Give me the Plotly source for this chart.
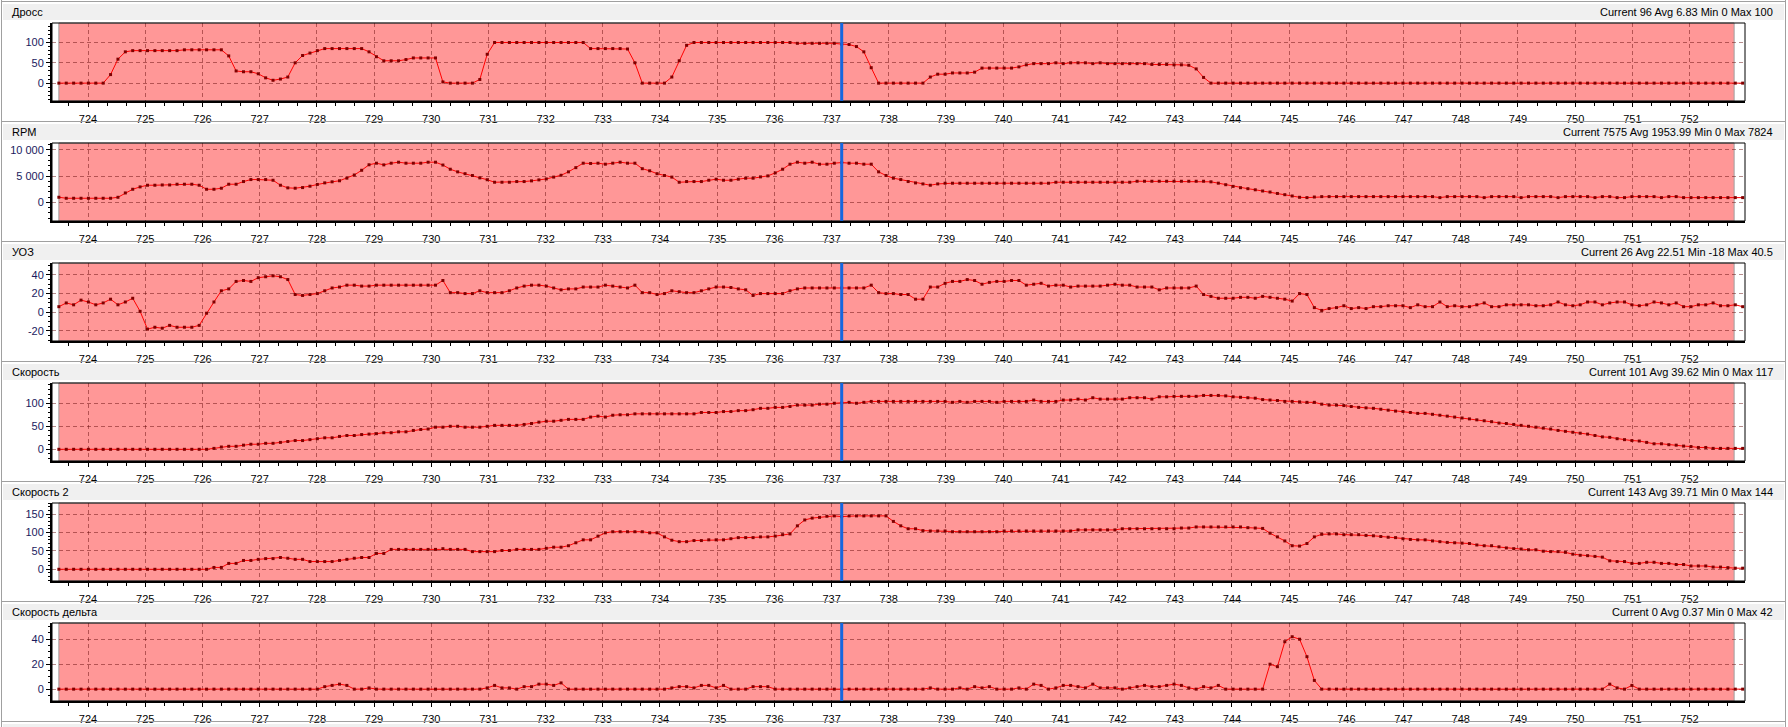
import plotly.graph_objects as go

W, H = 1788, 727
T0 = 723.49        # time of the first sample, s
DT = 0.12912       # sample step, s
CURSOR_INDEX = 106

titles = ['Дросс', 'RPM', 'УОЗ', 'Скорость', 'Скорость 2', 'Скорость дельта']
stats = ['Current 96 Avg 6.83 Min 0 Max 100',
         'Current 7575 Avg 1953.99 Min 0 Max 7824',
         'Current 26 Avg 22.51 Min -18 Max 40.5',
         'Current 101 Avg 39.62 Min 0 Max 117',
         'Current 143 Avg 39.71 Min 0 Max 144',
         'Current 0 Avg 0.37 Min 0 Max 42']

y_ticks = [[0, 50, 100], [0, 5000, 10000], [-20, 0, 20, 40],
           [0, 50, 100], [0, 50, 100, 150], [0, 20, 40]]
y_tick_text = [['0', '50', '100'], ['0', '5 000', '10 000'], ['-20', '0', '20', '40'],
               ['0', '50', '100'], ['0', '50', '100', '150'], ['0', '20', '40']]
y_ranges = [[-44, 148], [-3570, 11300], [-30.7, 52.7],
            [-25.4, 144], [-31.8, 180], [-9.5, 53]]
y_minor = [10, 1000, 5, 10, 10, 5]

throttle = [
    0, 0, 0, 0,
    0, 0, 0, 21, 59, 77, 80, 80,
    80, 80, 80, 80, 80, 82, 82, 82,
    82, 82, 82, 67, 30, 28, 28, 23,
    13, 7, 10, 15, 50, 68, 74,
    80, 85, 85, 85, 85, 85, 85, 77,
    65, 55, 55, 55, 58, 62, 62, 62,
    62, 3, 0, 0, 0, 0, 9, 71,
    100, 100, 100, 100, 100, 100, 100,
    100, 100, 100, 100, 100, 100, 85, 85,
    85, 85, 85, 84, 50, 0, 0, 0,
    0, 15, 55, 93, 100, 100, 100, 100,
    100, 100, 100, 100, 100, 100, 100,
    100, 100, 100, 98, 98, 98, 98, 98,
    98, 96, 95, 90, 77, 38, 0, 0,
    0, 0, 0, 0, 0, 15, 22, 22,
    25, 25, 25, 27, 37, 37, 37,
    37, 37, 40, 45, 48, 48, 48, 50,
    48, 50, 50, 50, 48, 50, 48, 48,
    48, 48, 48, 48, 46, 46, 46, 45,
    45, 44, 35, 14, 0, 0, 0,
    0, 0, 0, 0, 0, 0, 0, 0,
    0, 0, 0, 0, 0, 0, 0, 0,
    0, 0, 0, 0, 0, 0, 0, 0,
    0, 0, 0, 0, 0, 0, 0,
    0, 0, 0, 0, 0, 0, 0, 0,
    0, 0, 0, 0, 0, 0, 0, 0,
    0, 0, 0, 0, 0, 0, 0, 0,
    0, 0, 0, 0, 0, 0, 0,
    0, 0, 0, 0, 0, 0, 0, 0,
]

rpm = [
    955, 765, 765, 765,
    765, 765, 765, 765, 950, 1780, 2480, 2930,
    3250, 3250, 3300, 3300, 3440, 3440, 3440, 3250,
    2480, 2480, 2680, 3440, 3440, 3950, 4330, 4330,
    4330, 4200, 3250, 2750, 2680, 2800, 3060,
    3400, 3700, 3900, 4100, 4600, 5200, 6100, 7150,
    7450, 7130, 7450, 7640, 7450, 7450, 7450, 7640,
    7640, 7100, 6300, 5800, 5450, 5100, 4650, 4300,
    3820, 3820, 3820, 3950, 3950, 4080, 4270,
    4450, 4800, 5150, 5800, 6600, 7450, 7400, 7450,
    7260, 7450, 7640, 7450, 7450, 6400, 6000, 5450,
    5100, 4800, 3820, 3950, 3950, 3950, 4200, 4400,
    4200, 4200, 4400, 4590, 4590, 4840, 5030,
    5600, 6300, 7260, 7640, 7450, 7640, 7260, 7260,
    7450, 7575, 7450, 7450, 7260, 7260, 5800, 5100,
    4590, 4330, 3950, 3690, 3500, 3250, 3500, 3630,
    3630, 3630, 3630, 3630, 3630, 3630, 3630,
    3630, 3630, 3630, 3630, 3630, 3630, 3630, 3820,
    3820, 3820, 3820, 3820, 3820, 3820, 3820, 3820,
    3820, 3820, 4010, 4010, 4010, 4010, 4010, 4010,
    4010, 4010, 4010, 4010, 3900, 3640, 3350,
    3030, 2780, 2590, 2380, 2150, 1950, 1680, 1450,
    1200, 950, 890, 1000, 1080, 1080, 1080, 1080,
    1080, 1080, 1080, 1080, 1080, 1080, 1080, 1080,
    1080, 1080, 1080, 1080, 890, 1080, 1080,
    1080, 1080, 1080, 890, 1080, 1080, 1080, 1080,
    890, 1080, 1080, 1080, 1080, 890, 1080, 1080,
    1080, 1080, 890, 1080, 1080, 890, 890, 1080,
    1080, 1080, 1080, 890, 1080, 1080, 890,
    890, 890, 890, 890, 890, 890, 890, 890,
]

ignition = [
    6, 10, 8, 13,
    11, 8, 10, 14, 8, 11, 15, 1,
    -18, -16, -17, -14, -16, -16, -16, -14,
    -1, 11, 23, 25, 33, 34, 33, 37,
    38, 39, 38, 35, 19, 18, 19,
    20, 23, 26, 27, 29, 29, 28, 28,
    29, 29, 29, 29, 29, 29, 29, 29,
    29, 34, 21, 21, 20, 20, 23, 21,
    21, 21, 23, 26, 28, 29, 29,
    28, 26, 24, 25, 25, 27, 27, 27,
    29, 28, 27, 26, 29, 21, 21, 19,
    20, 23, 22, 21, 21, 23, 25, 27,
    27, 26.5, 25, 24, 18, 20, 20,
    20, 20, 23, 25, 26, 26, 26, 26,
    26, 26, 26, 26, 26, 29, 21, 20,
    20, 19, 19, 14, 14, 27, 27, 31,
    33, 33, 35, 34, 30, 32, 33,
    33, 34, 34, 29, 30, 31, 28, 29,
    29, 27, 28, 28, 28, 28, 29, 30,
    29, 29, 27, 27, 27, 24, 26, 26,
    26, 26, 28, 19, 17, 15, 15,
    15, 16, 16, 15, 17, 16, 15, 14,
    12, 20, 19, 5, 2, 4, 5, 7,
    4, 5, 4, 6, 6, 7, 7, 7,
    5, 8, 6, 6, 11, 6, 7,
    6, 6, 8, 10, 6, 6, 8, 8,
    8, 8, 7, 7, 8, 11, 8, 7,
    8, 11, 11, 8, 10, 11, 11, 8,
    7, 8, 11, 10, 8, 10, 6,
    6, 8, 8, 10, 7, 7, 8, 6,
]

speed = [
    0, 0, 0, 0,
    0, 0, 0, 0, 0, 0, 0, 0,
    0, 0, 0, 0, 0, 0, 0, 0,
    0, 2, 5, 6.5, 6.5, 9, 11, 11,
    13, 13, 15, 17, 19, 19, 21,
    23, 25, 25, 28, 30, 30, 32, 33,
    34, 36, 36, 38, 38, 41, 43, 44,
    48, 48, 50, 50, 48, 48, 48, 50,
    52, 52, 52, 52, 54, 56, 59,
    61, 61, 63, 65, 65, 65, 70, 72,
    70, 74, 75, 75, 77, 77, 77, 77,
    77, 77, 77, 77, 77, 80, 80, 80,
    82, 82, 84, 84, 86, 89, 89,
    91, 91, 93, 96, 96, 96, 98, 98,
    100, 101, 102, 100, 102, 104, 104, 104,
    104, 104, 104, 104, 104, 104, 104, 104,
    102, 104, 102, 104, 104, 104, 102,
    104, 104, 104, 104, 107, 104, 104, 104,
    107, 107, 109, 107, 112, 109, 109, 109,
    109, 112, 112, 112, 109, 114, 114, 115,
    115, 115, 115, 117, 117, 117, 116,
    114, 113, 112, 111, 108, 107, 106, 104,
    104, 103, 102, 102, 98, 96, 96, 95,
    93, 91, 90, 89, 87, 85, 83, 82,
    80, 78, 78, 76, 74, 72, 70,
    68, 66, 64, 62, 60, 57, 56, 54,
    52, 50, 48, 46, 44, 41, 39, 37,
    35, 33, 30, 27, 26, 23, 21, 19,
    18, 15, 12, 12, 10, 9, 7,
    6, 4, 4, 2, 2, 2, 2, 2,
]

speed2 = [
    0, 0, 0, 0,
    0, 0, 0, 0, 0, 0, 0, 0,
    0, 0, 0, 0, 0, 0, 0, 0,
    0, 5, 5, 16, 16, 24, 24, 27,
    29, 29, 32, 30, 27, 27, 21,
    21, 21, 21, 24, 27, 30, 32, 32,
    43, 43, 54, 54, 54, 54, 54, 54,
    54, 56, 54, 54, 54, 48, 48, 48,
    48, 51, 51, 54, 54, 54, 54,
    57, 60, 60, 64, 72, 80, 80, 90,
    99, 102, 102, 102, 102, 102, 99, 99,
    88, 79, 75, 75, 78, 78, 80, 80,
    80, 83, 86, 86, 86, 88, 88,
    90, 94, 96, 118, 134, 139, 141, 144,
    145, 143, 145, 145, 145, 145, 145, 145,
    130, 118, 110, 110, 105, 104, 104, 104,
    102, 102, 102, 102, 102, 102, 102,
    104, 104, 104, 104, 104, 104, 104, 104,
    104, 104, 107, 107, 107, 107, 107, 107,
    110, 110, 110, 110, 110, 110, 110, 110,
    112, 112, 115, 115, 115, 115, 115,
    115, 115, 113, 112, 111, 98, 88, 77,
    64, 63, 70, 88, 95, 96, 96, 94,
    94, 94, 92, 91, 89, 87, 86, 83,
    81, 80, 80, 77, 75, 73, 72,
    71, 70, 66, 64, 64, 61, 58, 56,
    55, 53, 53, 49, 48, 48, 46, 41,
    38, 37, 35, 33, 23, 21, 21, 16,
    16, 19, 19, 16, 16, 13, 13,
    9, 9, 9, 6, 6, 4.5, 3, 3,
]

speed_delta = [
    0, 0, 0, 0,
    0, 0, 0, 0, 0, 0, 0, 0,
    0, 0, 0, 0, 0, 0, 0, 0,
    0, 0, 0, 0, 0, 0, 0, 0,
    0, 0, 0, 0, 0, 0, 0,
    0, 2, 3, 4, 3, 0, 0, 1,
    0, 0, 0, 0, 0, 0, 0, 0,
    0, 0, 0, 0, 0, 0, 0, 1,
    3, 1, 1, 0, 2, 2, 4,
    4, 3, 5, 0, 0, 0, 0, 0,
    0, 0, 0, 0, 0, 0, 0, 0,
    0, 1, 2, 2, 1, 3, 3, 1,
    3, 0, 0, 0, 2, 2, 2,
    0, 0, 0, 0, 0, 0, 0, 0,
    0, 0, 0, 0, 0, 0, 0, 0,
    0, 0, 0, 0, 0, 1, 0, 0,
    0, 1, 0, 2, 1, 2, 0,
    0, 0, 1, 0, 4, 3, 0, 1,
    3, 3, 2, 1, 4, 1, 1, 1,
    0, 1, 2, 3, 2, 2, 3, 4,
    3, 1, 0, 2, 1, 3, 0,
    0, 0, 0, 0, 0, 20, 18, 38,
    42, 40, 26, 7, 0, 0, 0, 0,
    0, 0, 0, 0, 0, 0, 0, 0,
    0, 0, 0, 0, 0, 0, 0,
    0, 0, 0, 0, 0, 0, 0, 0,
    0, 0, 0, 0, 0, 0, 0, 0,
    0, 0, 0, 0, 4, 1, 0, 3,
    0, 0, 0, 0, 0, 0, 0,
    0, 0, 0, 0, 0, 0, 0, 0,
]

series = [throttle, rpm, ignition, speed, speed2, speed_delta]

X_RANGE = [723.37, 752.97]
RED_SPAN = [723.49, 752.78]
FONT = 'Liberation Sans'


def px_y(p):
    return 1 - p / H


fig = go.Figure()
shapes = []
annotations = []
layout = {}

# window frame, separators and title bars
for k in range(7):
    top = 120 * k
    shapes.append(dict(type='rect', xref='paper', yref='paper',
                       x0=3 / W, x1=1784 / W, y0=px_y(min(top + 20, H)), y1=px_y(top + 4),
                       fillcolor='#f0f0f0', line=dict(width=0), layer='below'))
    shapes.append(dict(type='line', xref='paper', yref='paper',
                       x0=2 / W, x1=1785 / W, y0=px_y(top + 1.5), y1=px_y(top + 1.5),
                       line=dict(color='#a0a0a0', width=1)))
for xp in (1.5, 1785.5):
    shapes.append(dict(type='line', xref='paper', yref='paper',
                       x0=xp / W, x1=xp / W, y0=0, y1=1,
                       line=dict(color='#a0a0a0', width=1)))

for k in range(6):
    n = '' if k == 0 else str(k + 1)
    xa, ya = 'x' + n, 'y' + n
    vals = series[k]
    t = [T0 + DT * i for i in range(len(vals))]

    fig.add_trace(go.Scatter(
        x=t, y=vals, xaxis=xa, yaxis=ya, mode='lines+markers',
        line=dict(color='#ff0000', width=1),
        marker=dict(symbol='square', size=3, color='#800000', line=dict(width=0)),
        showlegend=False, hoverinfo='skip'))

    top, bottom = 23 + 120 * k, 101 + 120 * k
    layout['xaxis' + n] = dict(
        domain=[52 / W, 1745 / W], anchor=ya, range=X_RANGE,
        tick0=0, dtick=1, ticks='outside', ticklen=4, tickcolor='black',
        showline=True, linecolor='black', linewidth=2,
        showgrid=True, gridcolor='rgba(90,0,0,0.45)', griddash='4px,3px', gridwidth=1,
        zeroline=False, tickfont=dict(family=FONT, size=11, color='black'),
        minor=dict(tick0=0, dtick=1 / 3, ticks='outside', ticklen=3,
                   tickcolor='black', showgrid=False),
        ticklabelstandoff=3, fixedrange=True)
    layout['yaxis' + n] = dict(
        domain=[px_y(bottom), px_y(top)], anchor=xa, range=y_ranges[k],
        tickmode='array', tickvals=y_ticks[k], ticktext=y_tick_text[k],
        ticks='outside', ticklen=4, tickcolor='black',
        showline=True, linecolor='black', linewidth=2,
        showgrid=True, gridcolor='rgba(90,0,0,0.45)', griddash='4px,3px', gridwidth=1,
        zeroline=False, tickfont=dict(family=FONT, size=11, color='#1a1a5e'),
        minor=dict(tick0=0, dtick=y_minor[k], ticks='outside', ticklen=2,
                   tickcolor='black', showgrid=False),
        fixedrange=True)

    # recorded span (pink), frame, cursor
    shapes.append(dict(type='rect', xref=xa, yref=ya + ' domain',
                       x0=RED_SPAN[0], x1=RED_SPAN[1], y0=0, y1=1,
                       fillcolor='#ff9797', line=dict(color='#a0a0a0', width=1),
                       layer='below'))
    shapes.append(dict(type='rect', xref=xa + ' domain', yref=ya + ' domain',
                       x0=0, x1=1, y0=0, y1=1,
                       line=dict(color='black', width=1), layer='above'))
    tc = t[CURSOR_INDEX]
    shapes.append(dict(type='line', xref=xa, yref=ya + ' domain',
                       x0=tc, x1=tc, y0=0, y1=1,
                       line=dict(color='#1467e0', width=3), layer='above'))

    annotations.append(dict(xref='paper', yref='paper', x=10 / W, y=px_y(120 * k + 12),
                            xanchor='left', yanchor='middle', text=titles[k], showarrow=False,
                            font=dict(family=FONT, size=11, color='black')))
    annotations.append(dict(xref='paper', yref='paper', x=1775 / W, y=px_y(120 * k + 12),
                            xanchor='right', yanchor='middle', text=stats[k], showarrow=False,
                            font=dict(family=FONT, size=11, color='black')))

fig.update_layout(
    width=W, height=H,
    margin=dict(l=0, r=0, t=0, b=0),
    paper_bgcolor='white', plot_bgcolor='white',
    shapes=shapes, annotations=annotations,
    showlegend=False, **layout)

# the page's default body margin would push the 1788x727 figure out of the window
fig.write_html('out.html', config={'displayModeBar': False},
               post_script="document.body.style.margin='0px';")
